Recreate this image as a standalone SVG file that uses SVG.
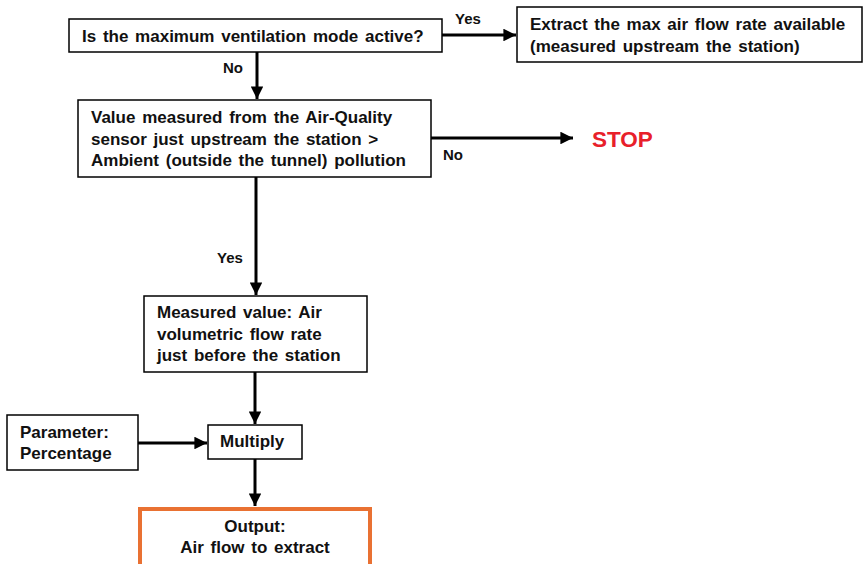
<svg xmlns="http://www.w3.org/2000/svg" width="863" height="564" viewBox="0 0 863 564">
<defs>
<style>
.box{fill:#fff;stroke:#000;stroke-width:1.5}
.out{fill:#fff;stroke:#E97132;stroke-width:4}
.t{font-family:"Liberation Sans",Arial,sans-serif;font-weight:bold;font-size:17px;fill:#111}
.lbl{font-family:"Liberation Sans",Arial,sans-serif;font-weight:bold;font-size:15px;fill:#111}
.stop{font-family:"Liberation Sans",Arial,sans-serif;font-weight:bold;font-size:22.5px;fill:#E8202A}
.c{stroke:#000;stroke-width:3;fill:none}
</style>
<marker id="ah" viewBox="0 0 10 10" refX="10" refY="5" markerWidth="4.2" markerHeight="4.2" orient="auto" markerUnits="strokeWidth">
<path d="M0,0 L10,5 L0,10 z" fill="#000"/>
</marker>
</defs>
<rect width="863" height="564" fill="#fff"/>
<g id="connectors">
<line class="c" x1="442" y1="35" x2="516" y2="35" marker-end="url(#ah)"/>
<line class="c" x1="257" y1="52" x2="257" y2="99" marker-end="url(#ah)"/>
<line class="c" x1="431" y1="138" x2="573" y2="138" marker-end="url(#ah)"/>
<line class="c" x1="256" y1="177" x2="256" y2="295" marker-end="url(#ah)"/>
<line class="c" x1="255" y1="372" x2="255" y2="424" marker-end="url(#ah)"/>
<line class="c" x1="138" y1="443" x2="207" y2="443" marker-end="url(#ah)"/>
<line class="c" x1="255" y1="459" x2="255" y2="506" marker-end="url(#ah)"/>
<text class="lbl" x="455" y="24">Yes</text>
<text class="lbl" x="223" y="73">No</text>
<text class="lbl" x="443" y="160">No</text>
<text class="lbl" x="217" y="263">Yes</text>
</g>
<g id="n1">
<rect class="box" x="69" y="19" width="373" height="33"/>
<text class="t" x="82" y="42" word-spacing="2">Is the maximum ventilation mode active?</text>
</g>
<g id="n2">
<rect class="box" x="517" y="7" width="345" height="55"/>
<text class="t" x="530" y="30" word-spacing="2">Extract the max air flow rate available</text>
<text class="t" x="530" y="52" word-spacing="2">(measured upstream the station)</text>
</g>
<g id="n3">
<rect class="box" x="78" y="100" width="353" height="77"/>
<text class="t" x="91" y="123" word-spacing="2">Value measured from the Air-Quality</text>
<text class="t" x="91" y="145" word-spacing="2">sensor just upstream the station &gt;</text>
<text class="t" x="91" y="166" word-spacing="2">Ambient (outside the tunnel) pollution</text>
</g>
<g id="stop">
<text class="stop" x="592" y="147">STOP</text>
</g>
<g id="n4">
<rect class="box" x="144" y="296" width="223" height="76"/>
<text class="t" x="157" y="318" word-spacing="2">Measured value: Air</text>
<text class="t" x="157" y="340" word-spacing="2">volumetric flow rate</text>
<text class="t" x="157" y="361" word-spacing="2">just before the station</text>
</g>
<g id="n5">
<rect class="box" x="7" y="415" width="131" height="55"/>
<text class="t" x="20" y="438">Parameter:</text>
<text class="t" x="20" y="459">Percentage</text>
</g>
<g id="n6">
<rect class="box" x="208" y="425" width="94" height="34"/>
<text class="t" x="220" y="447">Multiply</text>
</g>
<g id="n7">
<rect class="out" x="140" y="509" width="230" height="60"/>
<text class="t" x="255" y="532" text-anchor="middle">Output:</text>
<text class="t" x="255" y="553" text-anchor="middle" word-spacing="2">Air flow to extract</text>
</g>
</svg>
